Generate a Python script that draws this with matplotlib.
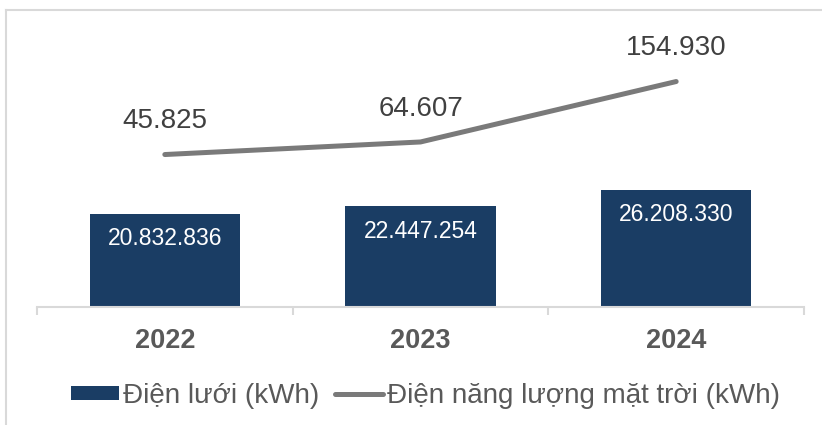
import matplotlib
matplotlib.use("Agg")
import matplotlib.pyplot as plt
from matplotlib.lines import Line2D
from matplotlib.patches import Patch

plt.rcParams['font.family'] = ['Liberation Sans', 'DejaVu Sans']

years = ["2022", "2023", "2024"]
grid_kwh = [20832836, 22447254, 26208330]
solar_kwh = [45825, 64607, 154930]
grid_labels = ["20.832.836", "22.447.254", "26.208.330"]
solar_labels = ["45.825", "64.607", "154.930"]
legend_labels = ["Điện lưới (kWh)", "Điện năng lượng mặt trời (kWh)"]

BAR_COLOR = "#1A3D64"
LINE_COLOR = "#7A7A7A"
TEXT_DARK = "#404040"
TEXT_GRAY = "#595959"
AXIS_GRAY = "#D9D9D9"

W, H = 822, 425
fig = plt.figure(figsize=(W / 100, H / 100), dpi=100)
ax_left, ax_right, ax_bottom, ax_top = 37, 804, 306.7, 20
ax = fig.add_axes([ax_left / W, (H - ax_bottom) / H, (ax_right - ax_left) / W, (ax_bottom - ax_top) / H])

x = list(range(len(years)))
bars = ax.bar(x, grid_kwh, width=0.588, color=BAR_COLOR, zorder=2)
ax.set_xlim(-0.5, len(years) - 0.5)
ax.set_ylim(0, 64.2e6)

for rect, lab in zip(bars, grid_labels):
    ax.annotate(lab, (rect.get_x() + rect.get_width() / 2, rect.get_height()),
                xytext=(0, -18), textcoords="offset points", ha="center", va="center",
                color="white", fontsize=16.5)

ax2 = ax.twinx()
ax2.set_ylim(-181600, 246900)
ax2.plot(x, solar_kwh, color=LINE_COLOR, lw=3.6, solid_capstyle="round",
         solid_joinstyle="round", zorder=3)
for xi, v, lab in zip(x, solar_kwh, solar_labels):
    ax2.annotate(lab, (xi, v), xytext=(0, 24), textcoords="offset points",
                 ha="center", va="center", color=TEXT_DARK, fontsize=20)

for a in (ax, ax2):
    for s in ("top", "right", "left"):
        a.spines[s].set_visible(False)
    a.set_yticks([])
ax2.spines["bottom"].set_visible(False)
ax.spines["bottom"].set_color(AXIS_GRAY)
ax.spines["bottom"].set_linewidth(1.5)

ax.set_xticks(x)
ax.set_xticklabels(years, fontsize=19.5, fontweight="bold", color=TEXT_GRAY)
ax.tick_params(axis="x", which="major", length=0, pad=15.5)
ax.set_xticks([-0.5, 0.5, 1.5, 2.5], minor=True)
ax.tick_params(axis="x", which="minor", length=6, width=1.5, color=AXIS_GRAY)

handles = [Patch(facecolor=BAR_COLOR, edgecolor="none"),
           Line2D([0], [0], color=LINE_COLOR, lw=3.6, solid_capstyle="round")]
leg = fig.legend(handles, legend_labels, loc="center", bbox_to_anchor=(425.5 / W, 1 - 396 / H),
                 ncol=2, frameon=False, fontsize=20, handlelength=1.73, handleheight=0.43,
                 handletextpad=0.14, columnspacing=0.58, borderpad=0, borderaxespad=0)
for t in leg.get_texts():
    t.set_color(TEXT_GRAY)

fig.add_artist(Line2D([6 / W, 6 / W], [0, 1 - 9.5 / H], color=AXIS_GRAY, lw=1.5))
fig.add_artist(Line2D([6 / W, 1], [1 - 9.5 / H, 1 - 9.5 / H], color=AXIS_GRAY, lw=1.5))

fig.savefig("out.png", dpi=100)
